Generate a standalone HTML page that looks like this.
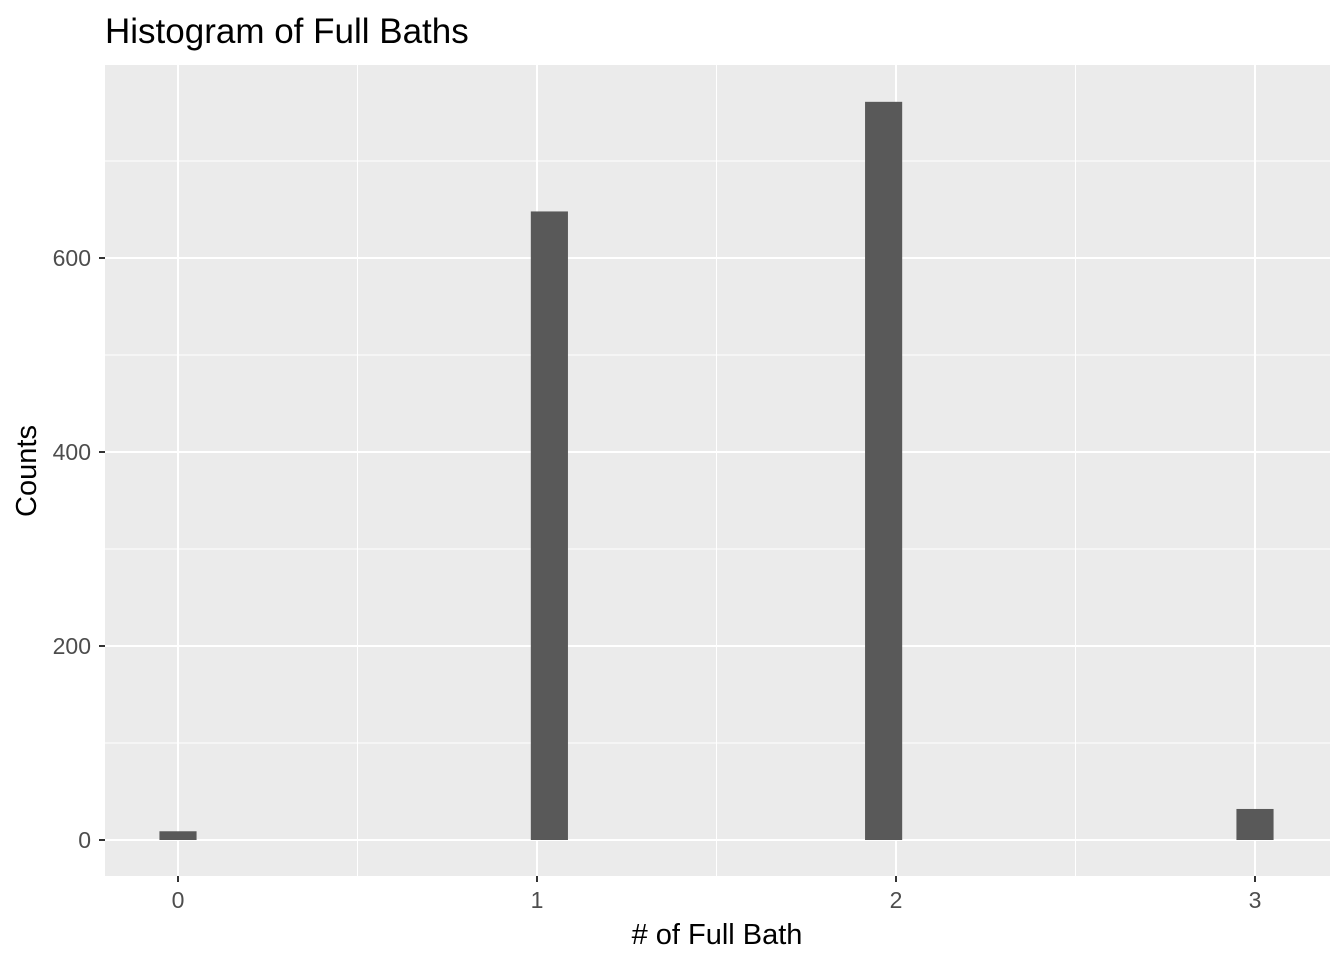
<!DOCTYPE html>
<html><head><meta charset="utf-8"><style>
html,body{margin:0;padding:0;background:#fff;}
svg{display:block;font-family:"Liberation Sans",sans-serif;}
</style></head><body>
<svg id="chart" width="1344" height="960">
<text x="105" y="43" font-size="35" fill="#000">Histogram of Full Baths</text>
<rect x="105" y="65" width="1225" height="811" fill="#ebebeb"/>
<g id="grid"></g>
<g id="bars"></g>
<g id="axes"></g>
<text x="717" y="944" font-size="29" text-anchor="middle" fill="#000"># of Full Bath</text>
<text transform="translate(36,471) rotate(-90)" font-size="29" text-anchor="middle" fill="#000">Counts</text>
</svg>
<script>
const binCenters = [0, 1.0345, 1.9655, 3];
const counts = [9, 648, 761, 32];
const binWidth = 3/29;
const xTicks = [0, 1, 2, 3];
const xMinor = [0.5, 1.5, 2.5];
const yTicks = [0, 200, 400, 600];
const yMinor = [100, 300, 500, 700];

const ns = "http://www.w3.org/2000/svg";
const xS = v => 178 + v * 359;
const yS = v => 840 - v * 0.97;
function mk(tag, attrs, parent){const e=document.createElementNS(ns,tag);for(const k in attrs)e.setAttribute(k,attrs[k]);parent.appendChild(e);return e;}
const grid=document.getElementById('grid'), bars=document.getElementById('bars'), axes=document.getElementById('axes');
yMinor.forEach(v=>{const l=mk('line',{x1:105,x2:1330,y1:yS(v),y2:yS(v),stroke:'#fff','stroke-width':1},grid);

});
xMinor.forEach(v=>{const l=mk('line',{x1:xS(v),x2:xS(v),y1:65,y2:876,stroke:'#fff','stroke-width':1},grid);

});
yTicks.forEach(v=>{const l=mk('line',{x1:105,x2:1330,y1:yS(v),y2:yS(v),stroke:'#fff','stroke-width':2},grid);


const t=mk('line',{x1:99,x2:105,y1:yS(v),y2:yS(v),stroke:'#333','stroke-width':2},axes);


const tx=mk('text',{x:91,y:yS(v)+8,'font-size':23,'text-anchor':'end',fill:'#4d4d4d'},axes);tx.textContent=v;

});
xTicks.forEach(v=>{const l=mk('line',{x1:xS(v),x2:xS(v),y1:65,y2:876,stroke:'#fff','stroke-width':2},grid);


const t=mk('line',{x1:xS(v),x2:xS(v),y1:876,y2:882,stroke:'#333','stroke-width':2},axes);


const tx=mk('text',{x:xS(v),y:908,'font-size':23,'text-anchor':'middle',fill:'#4d4d4d'},axes);tx.textContent=v;

});
binCenters.forEach((c,i)=>{const x0=xS(c-binWidth/2),x1=xS(c+binWidth/2);
const r=mk('rect',{x:x0,y:yS(counts[i]),width:x1-x0,height:yS(0)-yS(counts[i]),fill:'#595959'},bars);

});
</script>
</body></html>
